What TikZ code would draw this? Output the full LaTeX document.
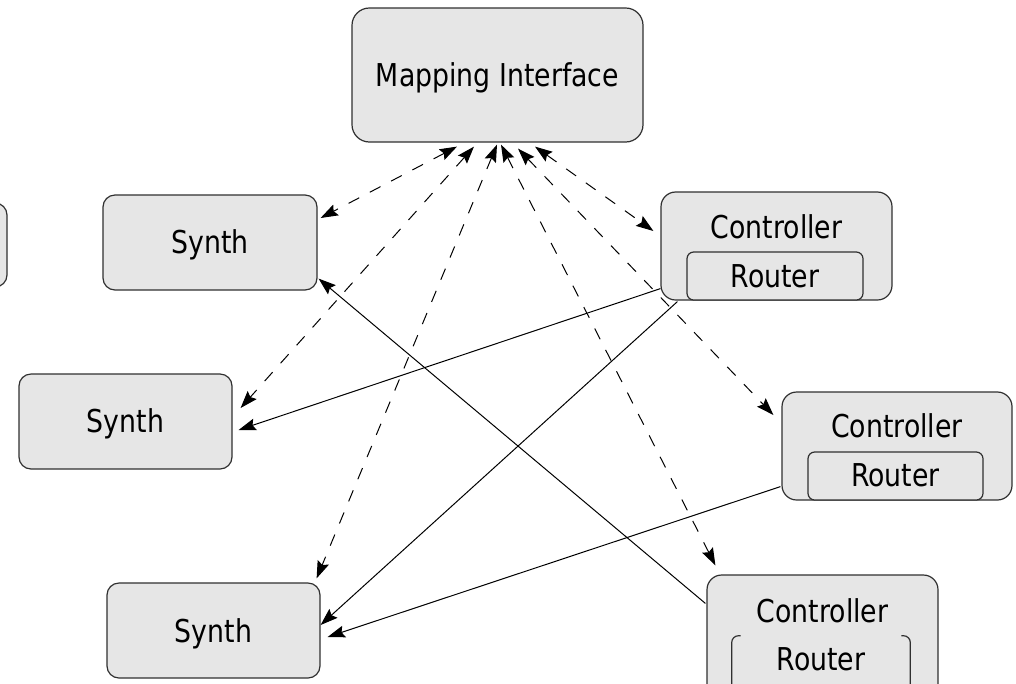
\documentclass[tikz,border=0pt]{standalone}
\usepackage{fontspec}
\setmainfont{DejaVu Sans}
\usepackage{graphicx}
\usetikzlibrary{arrows.meta,fit,calc}
\definecolor{boxfill}{HTML}{E6E6E6}
\definecolor{boxline}{HTML}{303030}
\newcommand\mytxt[1]{\scalebox{0.85}[1]{#1}}
\begin{document}
\begin{tikzpicture}[x=0.75pt,y=-0.75pt,
  box/.style={draw=boxline, fill=boxfill, line width=0.9pt, inner sep=0pt, rounded corners=9pt},
  lbl/.style={anchor=base, inner sep=0pt, font=\fontsize{23.6pt}{28pt}\selectfont, text=black},
  tip/.tip={Stealth[length=13pt,width=9pt,inset=2pt]},
  dasharrow/.style={line width=0.75pt, dash pattern=on 9pt off 9pt, tip-tip},
  solidarrow/.style={line width=0.75pt, -tip}]
\useasboundingbox (0,0) rectangle (1016,683);
\clip (0,0) rectangle (1016,683);
% boxes
\node[box, fit={(-80,203)(7,287)}] (px) {};
\node[box, rounded corners=13pt, fit={(352,8)(643,142)}] (mi) {};
\node[lbl] (mit) at (497.5,86) {\mytxt{Mapping Interface}};
\node[box, fit={(103,195)(317,290)}] (s1) {};
\node[lbl] (s1t) at (210,253) {\mytxt{Synth}};
\node[box, fit={(19,374)(232,469)}] (s2) {};
\node[lbl] (s2t) at (125.5,432) {\mytxt{Synth}};
\node[box, fit={(107,583)(320,678)}] (s3) {};
\node[lbl] (s3t) at (213.5,642) {\mytxt{Synth}};
% controller 1
\node[box, rounded corners=11pt, fit={(661,192)(892,300)}] (c1) {};
\node[box, rounded corners=5pt, fit={(687,252)(863,300)}] (r1) {};
\node[lbl] (c1t) at (776.5,238) {\mytxt{Controller}};
\node[lbl] (r1t) at (775,287) {\mytxt{Router}};
% controller 2
\node[box, rounded corners=11pt, fit={(782,392)(1012,500)}] (c2) {};
\node[box, rounded corners=5pt, fit={(808,452)(983,500)}] (r2) {};
\node[lbl] (c2t) at (897,437) {\mytxt{Controller}};
\node[lbl] (r2t) at (895.5,486) {\mytxt{Router}};
% controller 3
\node[box, rounded corners=11pt, fit={(707,575)(938,700)}] (c3) {};
\node[inner sep=0pt, fit={(732,636)(910,700)}] (r3) {};
\draw[boxline, line width=0.9pt, rounded corners=5pt] ($(r3.north west)+(9,0)$) -- (r3.north west) -- (r3.south west);
\draw[boxline, line width=0.9pt, rounded corners=5pt] ($(r3.north east)+(-9,0)$) -- (r3.north east) -- (r3.south east);
\node[lbl] (c3t) at (822.5,622) {\mytxt{Controller}};
\node[lbl] (r3t) at (821,670) {\mytxt{Router}};
% dashed bidirectional connectors
\draw[dasharrow] ($(mi.south)+(-40.5,4)$) -- ($(s1.east)+(3,-24.5)$);
\draw[dasharrow] ($(mi.south)+(-23.5,4)$) -- ($(s2.east)+(8,-13.5)$);
\draw[dasharrow] ($(mi.south)+(-0.5,2)$) -- ($(s3.north east)+(-4,-4)$);
\draw[dasharrow] ($(mi.south)+(3.5,2)$) -- ($(c3.north west)+(9,-9)$);
\draw[dasharrow] ($(mi.south)+(20.5,6)$) -- ($(c2.west)+(-8,-31)$);
\draw[dasharrow] ($(mi.south)+(37.5,4)$) -- ($(c1.west)+(-7,-15)$);
% solid connectors
\draw[solidarrow] ($(c1.south west)+(0,-12)$) -- ($(s2.east)+(6,8.5)$);
\draw[solidarrow] ($(c1.south west)+(17,1)$) -- ($(s3.east)+(0,-5.5)$);
\draw[solidarrow] ($(c2.south west)+(-1,-14)$) -- ($(s3.east)+(7,6.5)$);
\draw[solidarrow] ($(c3.north west)+(-1,29)$) -- ($(s1.south east)+(1,-12)$);
\end{tikzpicture}
\end{document}
